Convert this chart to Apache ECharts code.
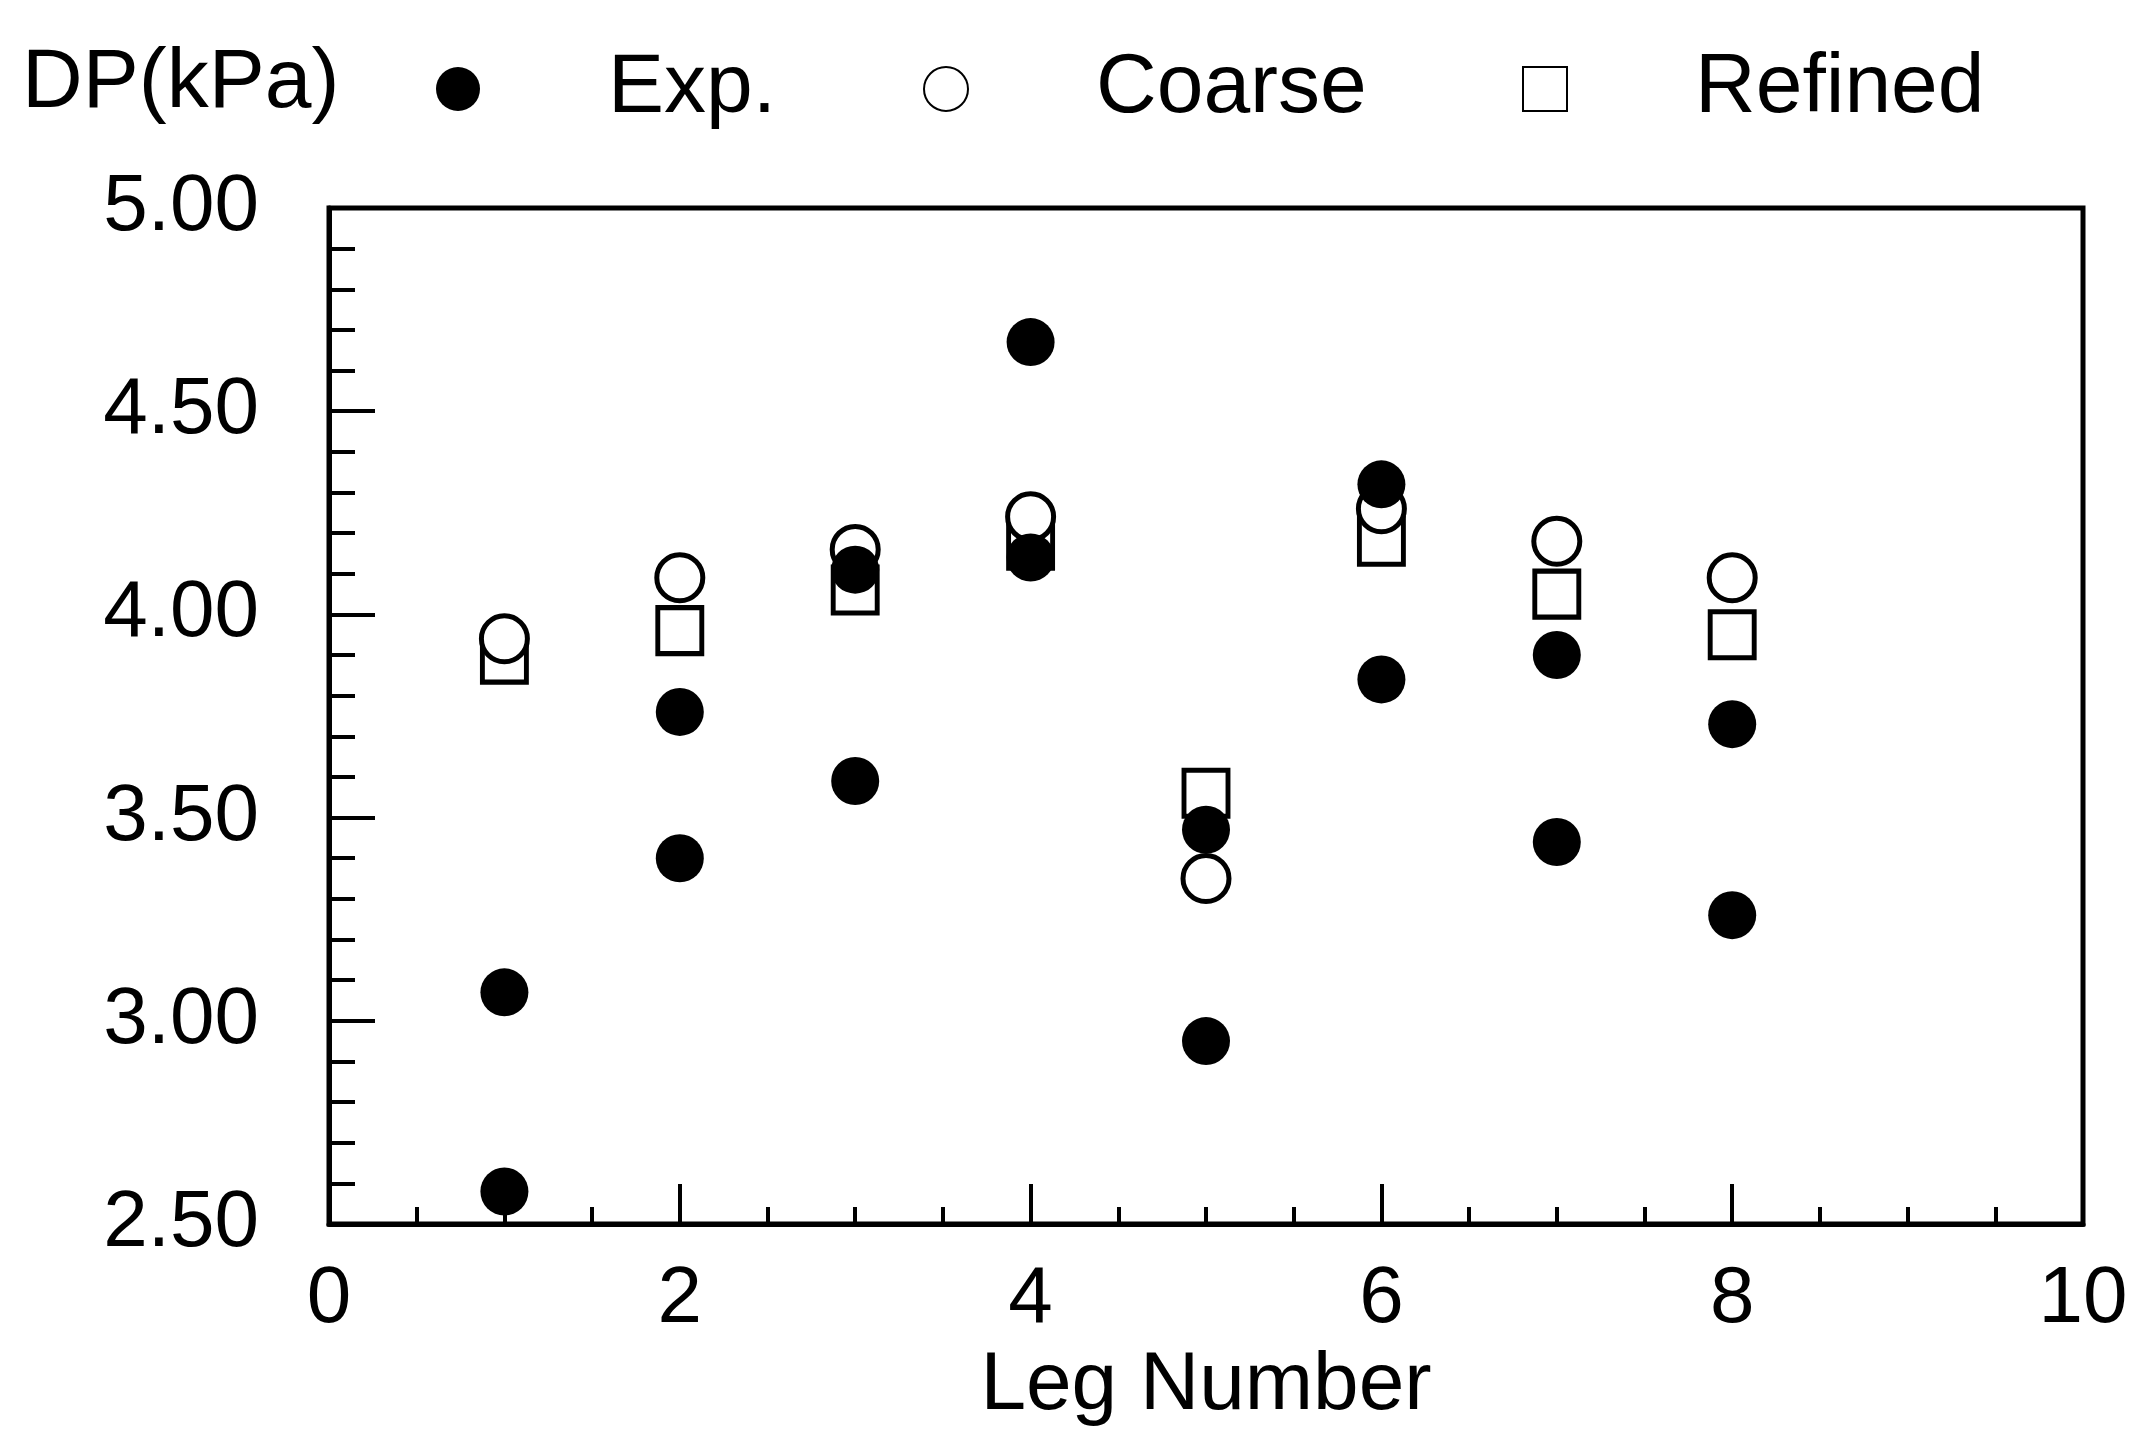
<!DOCTYPE html>
<html>
<head>
<meta charset="utf-8">
<script src="https://cdn.jsdelivr.net/npm/echarts@6/dist/echarts.min.js"></script>
<style>
  html, body { margin: 0; padding: 0; background: #fff; }
  #container { width: 2135px; height: 1434px; }
</style>
</head>
<body>
<div id="container"></div>
<script>
// leg numbers along the x axis
var legs = [1, 2, 3, 4, 5, 6, 7, 8];
// experimental pressure drop, two readings per leg (kPa)
var expUpper = [3.07, 3.76, 4.11, 4.67, 3.47, 4.32, 3.90, 3.73];
var expLower = [2.58, 3.40, 3.59, 4.14, 2.95, 3.84, 3.44, 3.26];
// computed with the coarse and the refined grid
var coarse = [3.94, 4.09, 4.16, 4.24, 3.35, 4.26, 4.18, 4.09];
var refined = [3.89, 3.96, 4.06, 4.17, 3.56, 4.18, 4.05, 3.95];

var xTicks = [0, 2, 4, 6, 8, 10];
var yTicks = [2.5, 3.0, 3.5, 4.0, 4.5, 5.0];

var font = "'Liberation Sans', Arial, Helvetica, sans-serif";

function pairs(vals) {
  return legs.map(function (x, i) { return [x, vals[i]]; });
}

var chartDom = document.getElementById("container");
var myChart = echarts.init(chartDom);
var option;

function legendAt(name, left) {
  return {
    left: left,
    top: 42,
    data: [name],
    itemWidth: 44,
    itemHeight: 44,
    selectedMode: false,
    textStyle: {
      fontFamily: font,
      fontSize: 84,
      color: "#000",
      padding: [0, 0, 0, 123]
    }
  };
}

option = {
  backgroundColor: "#fff",
  animation: false,
  title: {
    text: "DP(kPa)",
    left: 22,
    top: 42,
    padding: 0,
    textStyle: { fontFamily: font, fontSize: 84, fontWeight: "normal", color: "#000" }
  },
  legend: [
    legendAt("Exp.", 431),
    legendAt("Coarse", 918),
    legendAt("Refined", 1517)
  ],
  grid: {
    left: 329,
    right: 52,
    top: 208,
    bottom: 210,
    show: true,
    borderColor: "#000",
    borderWidth: 5,
    backgroundColor: "transparent"
  },
  xAxis: {
    type: "value",
    min: xTicks[0],
    max: xTicks[xTicks.length - 1],
    interval: 2,
    name: "Leg Number",
    nameLocation: "middle",
    nameGap: 118,
    nameTextStyle: { fontFamily: font, fontSize: 82, color: "#000" },
    axisLine: { show: true, onZero: false, lineStyle: { color: "#000", width: 5 } },
    axisTick: { show: true, inside: true, length: 40, lineStyle: { color: "#000", width: 4 } },
    minorTick: { show: true, splitNumber: 4, length: 17, lineStyle: { color: "#000", width: 4 } },
    splitLine: { show: false },
    axisLabel: { fontFamily: font, fontSize: 80, color: "#000", margin: 36 }
  },
  yAxis: {
    type: "value",
    min: yTicks[0],
    max: yTicks[yTicks.length - 1],
    interval: 0.5,
    axisLine: { show: true, onZero: false, lineStyle: { color: "#000", width: 5 } },
    axisTick: { show: true, inside: true, length: 46, lineStyle: { color: "#000", width: 4 } },
    minorTick: { show: true, splitNumber: 5, length: 26, lineStyle: { color: "#000", width: 4 } },
    splitLine: { show: false },
    axisLabel: {
      fontFamily: font,
      fontSize: 80,
      color: "#000",
      margin: 70,
      formatter: function (v) { return v.toFixed(2); }
    }
  },
  series: [
    {
      name: "Refined",
      type: "scatter",
      symbol: "rect",
      symbolSize: [44, 46],
      data: pairs(refined),
      itemStyle: { color: "#fff", borderColor: "#000", borderWidth: 5, opacity: 1 },
      z: 2
    },
    {
      name: "Coarse",
      type: "scatter",
      symbol: "circle",
      symbolSize: 46,
      data: pairs(coarse),
      itemStyle: { color: "#fff", borderColor: "#000", borderWidth: 5, opacity: 1 },
      z: 3
    },
    {
      name: "Exp.",
      type: "scatter",
      symbol: "circle",
      symbolSize: 48,
      data: pairs(expUpper).concat(pairs(expLower)),
      itemStyle: { color: "#000", borderColor: "#000", borderWidth: 0, opacity: 1 },
      z: 4
    }
  ]
};

option && myChart.setOption(option);
</script>
</body>
</html>
